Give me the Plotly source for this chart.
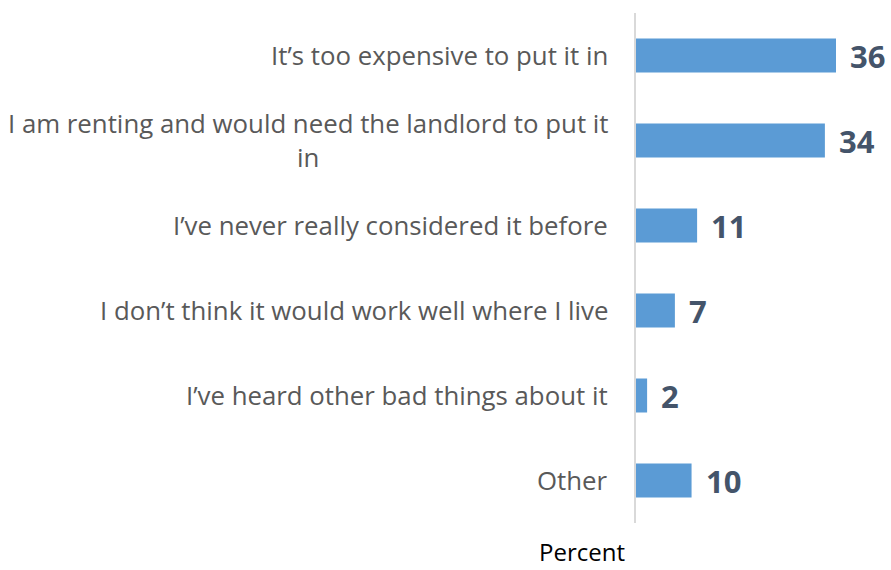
import plotly.graph_objects as go

# Reasons for not installing, share of respondents (percent)
reasons = [
    "It\u2019s too expensive to put it in",
    "I am renting and would need the landlord to put it<br>in",
    "I\u2019ve never really considered it before",
    "I don\u2019t think it would work well where I live",
    "I\u2019ve heard other bad things about it",
    "Other",
]
percent = [36, 34, 11, 7, 2, 10]

axis_title = "Percent"

BAR_COLOR = "#5B9BD5"
LABEL_COLOR = "#595959"
VALUE_COLOR = "#44546A"
FONT = "Open Sans"

# plot area geometry in pixels
W, H = 891, 570
L, R, T, B = 636, 5, 13, 47
PW, PH = W - L - R, H - T - B

fig = go.Figure(
    go.Bar(
        x=percent,
        y=reasons,
        orientation="h",
        marker=dict(color=BAR_COLOR, line=dict(width=0)),
        hoverinfo="skip",
    )
)

annotations = []
# category labels to the left of the axis, centred line-by-line
for r in reasons:
    annotations.append(
        dict(
            x=0, xref="paper", y=r, yref="y",
            text=r, showarrow=False,
            xanchor="right", yanchor="middle", align="center",
            xshift=-26, yshift=1,
            font=dict(family=FONT, size=25.8, color=LABEL_COLOR),
        )
    )
# value labels after each bar
for r, v in zip(reasons, percent):
    annotations.append(
        dict(
            x=v, xref="x", y=r, yref="y",
            text=f"<b>{v}</b>", showarrow=False,
            xanchor="left", yanchor="middle",
            xshift=12,
            font=dict(family=FONT, size=31, color=VALUE_COLOR),
        )
    )
# axis title below the plot, box resting on the bottom edge
annotations.append(
    dict(
        x=(582 - L) / PW, xref="paper",
        y=(H - 569 - B) / PH, yref="paper",
        text=axis_title, showarrow=False,
        xanchor="center", yanchor="bottom", borderpad=0,
        font=dict(family=FONT, size=24, color="#000000"),
    )
)

fig.update_layout(
    width=W,
    height=H,
    margin=dict(l=L, r=R, t=T, b=B),
    paper_bgcolor="white",
    plot_bgcolor="white",
    bargap=0.6,
    showlegend=False,
    annotations=annotations,
    xaxis=dict(
        range=[0, 45],
        showgrid=False,
        zeroline=False,
        showticklabels=False,
        showline=False,
        fixedrange=True,
    ),
    yaxis=dict(
        categoryorder="array",
        categoryarray=reasons[::-1],
        showticklabels=False,
        showgrid=False,
        zeroline=False,
        showline=True,
        linecolor="#D9D9D9",
        linewidth=1.5,
        ticks="",
        fixedrange=True,
    ),
)

fig.write_html("out.html")
